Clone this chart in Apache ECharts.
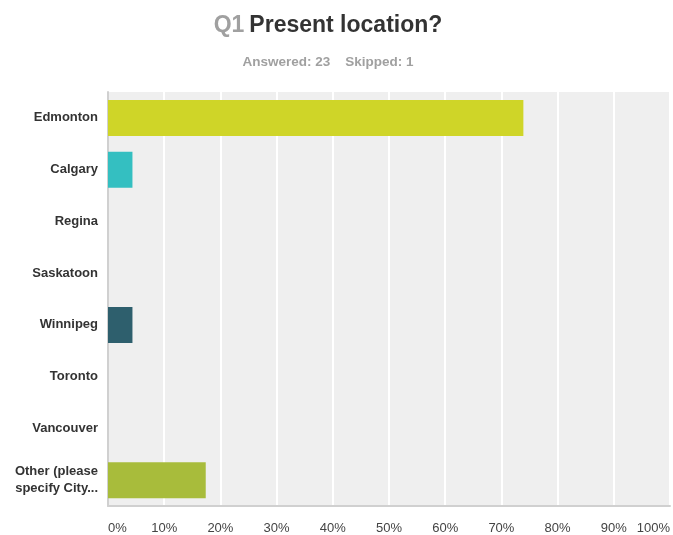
<!DOCTYPE html>
<html>
<head>
<meta charset="utf-8">
<script src="https://cdn.jsdelivr.net/npm/echarts@6/dist/echarts.min.js"></script>
<style>
  html, body { margin: 0; padding: 0; background: #fff; }
  #chart { width: 673px; height: 535px; }
</style>
</head>
<body>
<div id="chart"></div>
<script>
// Survey question 1: share of respondents by present location
const categories = ['Edmonton', 'Calgary', 'Regina', 'Saskatoon', 'Winnipeg', 'Toronto', 'Vancouver', 'Other (please\nspecify City...'];
const percentages = [73.91, 4.35, 0, 0, 4.35, 0, 0, 17.39];
const barColors = ['#cfd528', '#34bfc1', '#cfd528', '#cfd528', '#2e5f6d', '#cfd528', '#cfd528', '#a8bc3b'];
const answered = 23;
const skipped = 1;

const chart = echarts.init(document.getElementById('chart'));
chart.setOption({
  animation: false,
  title: {
    text: '{q|Q1} {t|Present location?}',
    subtext: 'Answered: ' + answered + '    Skipped: ' + skipped,
    left: 323,
    textAlign: 'center',
    top: 9,
    itemGap: 18,
    textStyle: {
      rich: {
        q: { fontFamily: 'Liberation Sans, Arial', fontSize: 23, fontWeight: 'bold', color: '#a0a0a0' },
        t: { fontFamily: 'Liberation Sans, Arial', fontSize: 23, fontWeight: 'bold', color: '#333333' }
      }
    },
    subtextStyle: {
      fontFamily: 'Liberation Sans, Arial',
      fontSize: 13.5,
      fontWeight: 'bold',
      color: '#a0a0a0'
    }
  },
  grid: { left: 108, right: 0, top: 92, bottom: 29, backgroundColor: '#efefef', show: true, borderWidth: 0 },
  xAxis: {
    type: 'value',
    min: 0,
    max: 100,
    interval: 10,
    axisLine: { show: true, lineStyle: { color: '#d0d0d0', width: 2 } },
    axisTick: { show: false },
    splitLine: { show: true, lineStyle: { color: '#ffffff', width: 2 } },
    axisLabel: {
      formatter: '{value}%',
      margin: 16,
      color: '#444',
      fontFamily: 'Liberation Sans, Arial',
      fontSize: 13,
      alignMinLabel: 'left',
      alignMaxLabel: 'right'
    }
  },
  yAxis: {
    type: 'category',
    data: categories,
    inverse: true,
    axisLine: { show: true, lineStyle: { color: '#d0d0d0', width: 2 } },
    axisTick: { show: false },
    axisLabel: {
      margin: 10,
      color: '#333',
      fontFamily: 'Liberation Sans, Arial',
      fontSize: 13,
      fontWeight: 'bold',
      lineHeight: 17
    }
  },
  series: [{
    type: 'bar',
    data: percentages.map((v, i) => ({ value: v, itemStyle: { color: barColors[i] } })),
    barWidth: 36,
    z: 3
  }]
});
</script>
</body>
</html>
